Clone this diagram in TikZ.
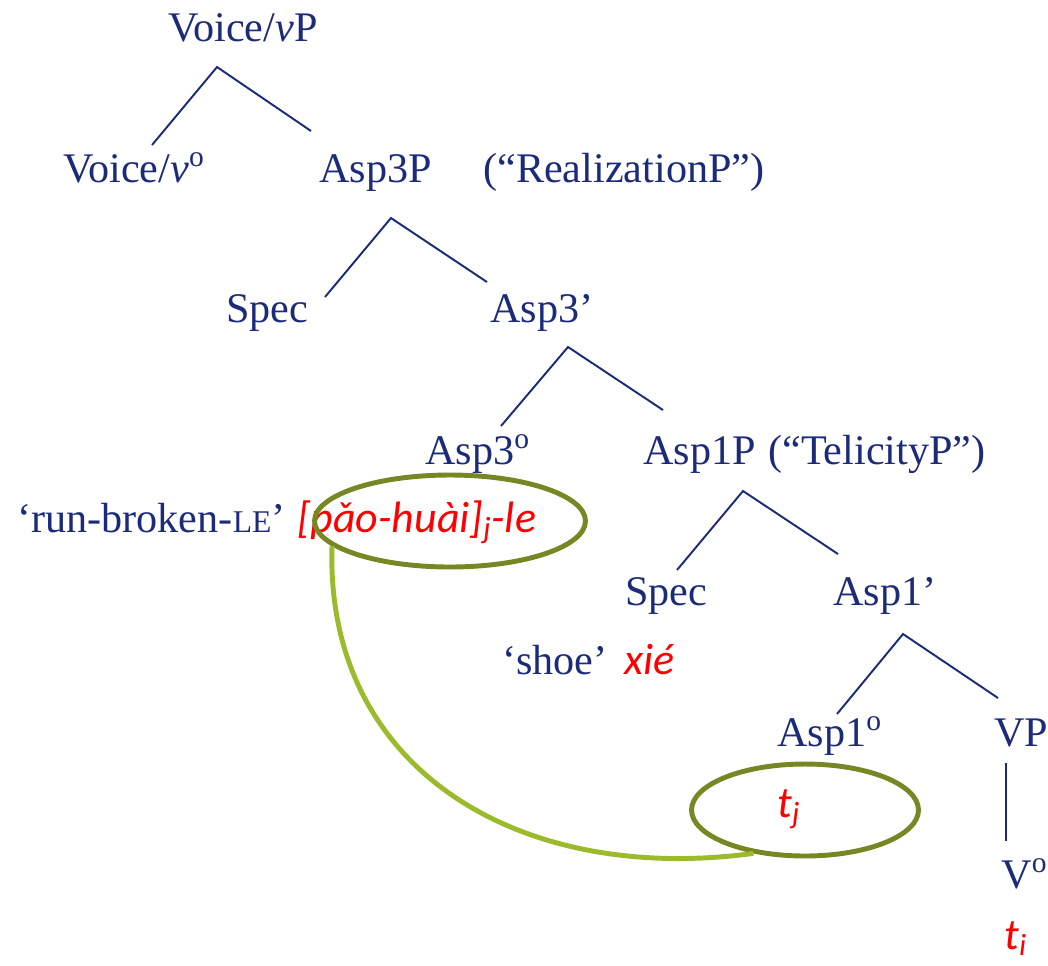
\documentclass[tikz,border=0pt]{standalone}
\usepackage{fontspec}
\setmainfont{Liberation Serif}
\newfontfamily\exfont{Carlito}
\usetikzlibrary{shapes.geometric}

\definecolor{treeblue}{RGB}{28,42,122}
\definecolor{ringolive}{RGB}{118,135,35}
\definecolor{movegreen}{RGB}{155,187,45}

\begin{document}
\begin{tikzpicture}[x=0.02cm, y=-0.02cm,
            every node/.style={inner sep=0pt, anchor=base west, text=treeblue, font=\fontsize{24}{28}\selectfont},
            ex/.style={text=red, font=\exfont\itshape\fontsize{25}{28}\selectfont},
            ring/.style={draw=ringolive, ellipse, line width=2.8pt, anchor=center, minimum height=1.84cm}]
            \useasboundingbox (0,0) rectangle (1048,965);

            % category labels
            \node(vP) at (168,41) {Voice/\textit{v}P};
            \node(vhead) at (63,182) {Voice/\textit{v}\textsuperscript{o}};
            \node(asp3P) at (319,182) {Asp3P};
            \node(real) at (483,182) {(“RealizationP”)};
            \node(spec3) at (226,322) {Spec};
            \node(asp3bar) at (490,322) {Asp3’};
            \node(asp3head) at (425,464) {Asp3\textsuperscript{o}};
            \node(asp1P) at (643,464) {Asp1P};
            \node(tel) at (768,464) {(“TelicityP”)};
            \node(spec1) at (625,605) {Spec};
            \node(asp1bar) at (833,605) {Asp1’};
            \node(asp1head) at (777,746) {Asp1\textsuperscript{o}};
            \node(VP) at (994,746) {VP};
            \node(Vhead) at (1001,888) {V\textsuperscript{o}};

            % glosses and the moved material
            \node(gloss3) at (17,532) {‘run-broken-{\fontsize{18}{18}\selectfont LE}’};
            \node[ex](ex3) at (297,532) {[pǎo-huài]\textsubscript{j}-le};
            \node(gloss1) at (502,674) {‘shoe’};
            \node[ex](ex1) at (624,674) {xié};
            \node[ex](tj) at (777,817) {t\textsubscript{j}};
            \node[ex](ti) at (1004,949) {t\textsubscript{i}};

            % branch points
            \coordinate(f1) at (217,67);  \coordinate(f1l) at (152,145); \coordinate(f1r) at (311,131);
            \coordinate(f2) at (391,218); \coordinate(f2l) at (325,297); \coordinate(f2r) at (487,282);
            \coordinate(f3) at (568,347); \coordinate(f3l) at (501,426); \coordinate(f3r) at (663,410);
            \coordinate(f4) at (743,491); \coordinate(f4l) at (677,570); \coordinate(f4r) at (838,554);
            \coordinate(f5) at (903,634); \coordinate(f5l) at (837,714); \coordinate(f5r) at (998,698);
            \coordinate(f6) at (1006,763); \coordinate(f6b) at (1006,841);

            \begin{scope}[draw=treeblue, line width=1.1pt]
                \draw(f1l)--(f1)--(f1r);
                \draw(f2l)--(f2)--(f2r);
                \draw(f3l)--(f3)--(f3r);
                \draw(f4l)--(f4)--(f4r);
                \draw(f5l)--(f5)--(f5r);
                \draw(f6)--(f6b);
            \end{scope}

            % head movement
            \node[ring, minimum width=5.42cm](ring1) at (450,521) {};
            \node[ring, minimum width=4.54cm](ring2) at (805,810) {};
            \draw[movegreen, line width=2.8pt] (ring1.192) .. controls (325,770) and (520,885) .. (ring2.220);
\end{tikzpicture}
\end{document}
